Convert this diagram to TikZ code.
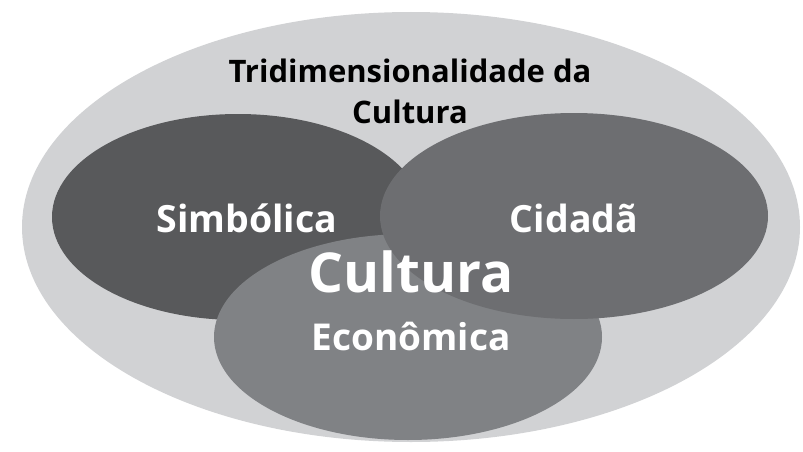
\documentclass[tikz,border=0pt]{standalone}
\usepackage{fontspec}
\setmainfont{Open Sans}
\usetikzlibrary{positioning, shapes.geometric}

\definecolor{outergray}{HTML}{D1D2D4}
\definecolor{simbgray}{HTML}{58595B}
\definecolor{cidgray}{HTML}{6D6E71}
\definecolor{econgray}{HTML}{808285}

\begin{document}
\begin{tikzpicture}[
    x=1pt, y=-1pt, % one unit = one pixel of the reference, y downwards
    bubble/.style={ellipse, draw=none, inner sep=0pt},
    titlestyle/.style={font=\fontsize{31}{41}\selectfont\bfseries, text=black, align=center, inner sep=0pt},
    dimstyle/.style={font=\fontsize{37.5}{40}\selectfont\bfseries, text=white, inner sep=0pt, anchor=base},
    corestyle/.style={font=\fontsize{55}{60}\selectfont\bfseries, text=white, inner sep=0pt, anchor=base}
]

\useasboundingbox (0,0) rectangle (803,452);

% Outer ellipse
\node (outer) [bubble, fill=outergray, minimum width=778pt, minimum height=430pt] at (411,227) {};

% The three dimensions (Cidadã lies on top)
\node (simbolica) [bubble, fill=simbgray, minimum width=372pt, minimum height=206pt] at (238,217) {};
\node (economica) [bubble, fill=econgray, minimum width=388pt, minimum height=206pt] at (408,337) {};
\node (cidada) [bubble, fill=cidgray, minimum width=388pt, minimum height=206pt] at (574,216) {};

% Header text
\node (title_l1) [titlestyle, anchor=base] at (410,82) {Tridimensionalidade da};
\node (title_l2) [titlestyle, below=41pt of title_l1.base, anchor=base] {Cultura};

% Labels
\node (simb_label) [dimstyle] at (247,232) {Simbólica};
\node (cid_label) [dimstyle] at (574,232) {Cidadã};
\node (core_label) [corestyle] at (411,292) {Cultura};
\node (econ_label) [dimstyle, font=\fontsize{37}{40}\selectfont\bfseries] at (411,350) {Econômica};

\end{tikzpicture}
\end{document}
